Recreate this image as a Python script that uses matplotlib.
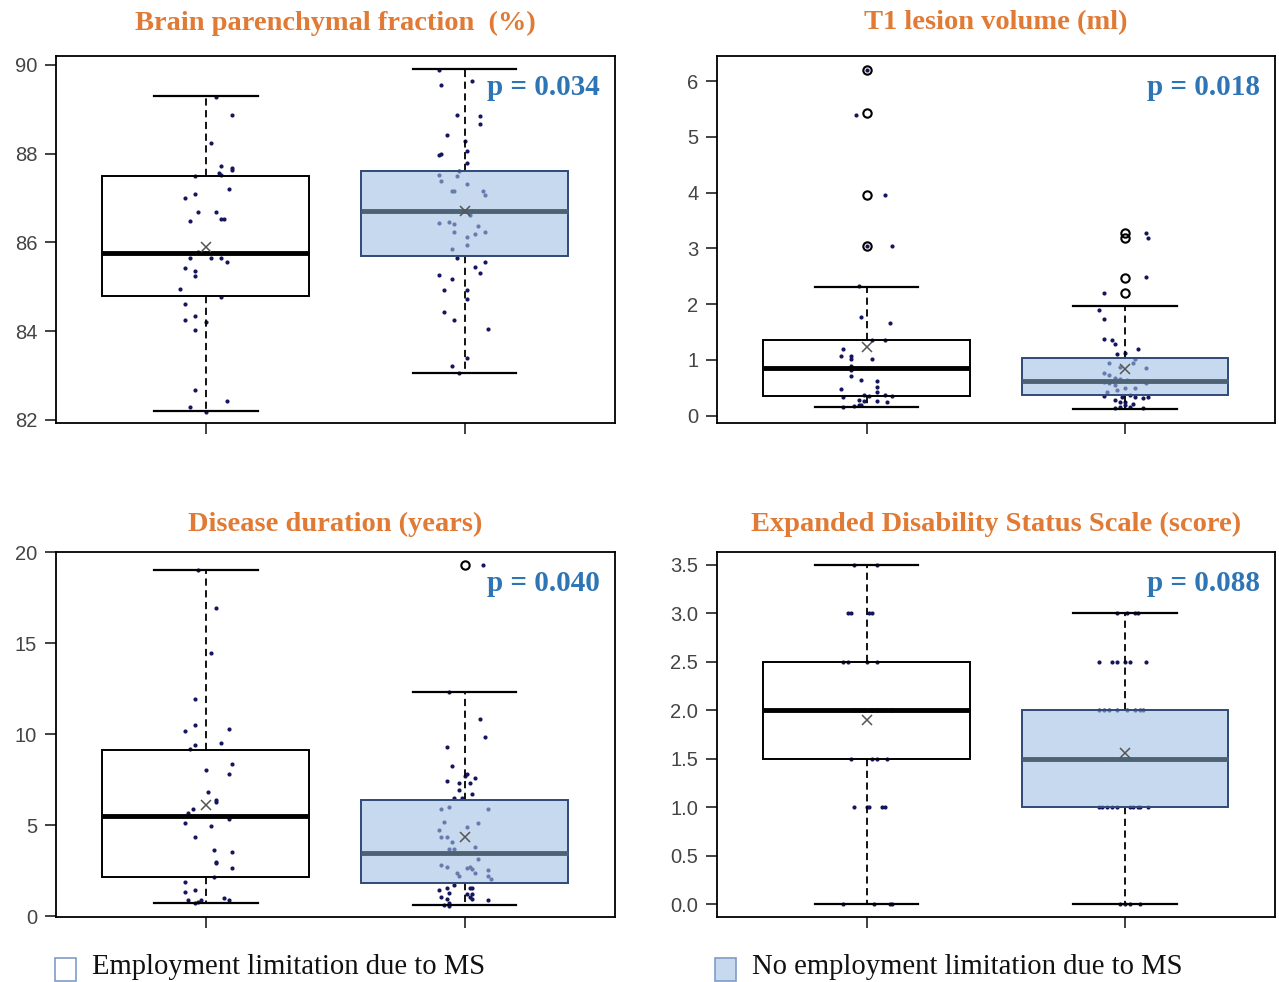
import numpy as np
import matplotlib
matplotlib.use("Agg")
import matplotlib.pyplot as plt
from matplotlib.patches import Rectangle

# box summaries: whislo, q1, median, q3, whishi, mean  (group 1 = limitation, group 2 = no limitation)
bpf_box = [[82.2, 84.8, 85.75, 87.5, 89.3, 85.9], [83.05, 85.7, 86.7, 87.6, 89.9, 86.7]]
t1_box = [[0.15, 0.35, 0.85, 1.35, 2.3, 1.23], [0.12, 0.38, 0.62, 1.03, 1.97, 0.83]]
dd_box = [[0.7, 2.15, 5.5, 9.1, 19.0, 6.1], [0.6, 1.8, 3.45, 6.4, 12.3, 4.35]]
edss_box = [[0.0, 1.5, 2.0, 2.5, 3.5, 1.9], [0.0, 1.0, 1.5, 2.0, 3.0, 1.56]]

bpf_out = [[], []]
t1_out = [[3.04, 3.96, 5.42, 6.2], [2.2, 2.47, 3.19, 3.27]]
dd_out = [[], [19.3]]
edss_out = [[], []]

# individual observations (value, horizontal jitter)
bpf_v1 = [89.28, 88.88, 88.24, 87.73, 87.68, 87.64, 87.56, 87.52, 87.5, 87.2, 87.01, 87.09,
          86.68, 86.68, 86.48, 86.52, 86.52, 85.79, 85.64, 85.64, 85.64, 85.55, 85.43, 85.35,
          85.25, 84.96, 84.77, 84.62, 84.35, 84.24, 84.2, 84.02, 82.67, 82.42, 82.29, 82.17]
bpf_j1 = [0.04, 0.10, 0.02, 0.06, 0.10, 0.10, 0.05, 0.06, -0.04, 0.09, -0.08, -0.04,
          -0.03, 0.04, -0.06, 0.06, 0.07, -0.03, -0.06, 0.02, 0.06, 0.08, -0.08, -0.04,
          -0.04, -0.10, 0.06, -0.08, -0.04, -0.08, 0.0, -0.04, -0.04, 0.08, -0.06, 0.0]
bpf_v2 = [89.89, 89.55, 89.64, 88.88, 88.85, 88.66, 88.43, 88.28, 87.98, 88.0, 88.05, 87.79,
          87.6, 87.52, 87.39, 87.49, 87.31, 87.15, 87.15, 87.16, 87.07, 86.7, 86.7, 86.7,
          86.7, 86.62, 86.43, 86.47, 86.41, 86.38, 86.24, 86.24, 86.18, 86.13, 85.95, 85.85,
          85.64, 85.55, 85.45, 85.26, 85.3, 85.18, 84.92, 84.92, 84.73, 84.43, 84.24, 84.05,
          83.39, 83.21, 83.06]
bpf_j2 = [-0.10, -0.09, 0.03, -0.03, 0.06, 0.06, -0.07, 0.0, -0.10, -0.09, 0.01, 0.01,
          -0.02, -0.10, -0.09, -0.03, 0.01, -0.05, -0.04, 0.07, 0.08, -0.05, -0.02, 0.0,
          0.03, 0.02, -0.10, -0.06, -0.04, 0.05, -0.04, 0.08, 0.04, 0.01, 0.01, -0.05,
          -0.03, 0.08, 0.04, -0.10, 0.06, -0.05, -0.08, 0.01, 0.01, -0.08, -0.04, 0.09,
          0.01, -0.05, -0.02]

t1_v1 = [6.2, 5.4, 3.96, 3.04, 3.04, 2.32, 1.77, 1.66, 1.35, 1.35, 1.2, 1.07, 1.02, 1.08,
         1.02, 0.9, 0.82, 0.71, 0.64, 0.63, 0.51, 0.48, 0.43, 0.33, 0.37, 0.35, 0.37, 0.36,
         0.28, 0.26, 0.26, 0.24, 0.2, 0.19, 0.17, 0.15]
t1_j1 = [0.0, -0.04, 0.07, 0.0, 0.10, -0.03, -0.02, 0.09, 0.02, 0.07, -0.09, -0.10, -0.06, -0.06,
         0.02, -0.06, -0.06, -0.06, -0.02, 0.04, 0.04, -0.10, 0.04, -0.09, -0.01, 0.01, 0.07, 0.10,
         -0.03, -0.01, 0.04, 0.08, -0.02, -0.03, -0.05, -0.09]
t1_v2 = [3.28, 3.18, 2.49, 2.2, 1.89, 1.74, 1.38, 1.35, 1.29, 1.2, 1.11, 1.13, 1.02, 0.94,
         0.94, 0.88, 0.85, 0.77, 0.73, 0.67, 0.65, 0.64, 0.61, 0.58, 0.55, 0.58, 0.49, 0.5,
         0.43, 0.46, 0.35, 0.34, 0.37, 0.34, 0.31, 0.33, 0.28, 0.25, 0.25, 0.21, 0.19, 0.15,
         0.15, 0.13, 0.13]
t1_j2 = [0.08, 0.09, 0.08, -0.08, -0.10, -0.08, -0.08, -0.05, -0.04, 0.05, -0.03, 0.0, 0.04, -0.06,
         0.03, -0.02, 0.08, -0.08, -0.06, -0.04, -0.02, 0.01, -0.08, -0.06, -0.04, 0.08, 0.0, 0.04,
         -0.07, -0.03, -0.08, -0.01, 0.02, 0.04, 0.07, 0.09, -0.04, -0.02, 0.0, 0.03, 0.0, -0.02,
         0.02, 0.07, -0.04]

dd_v1 = [19.03, 16.94, 14.47, 11.95, 10.17, 10.48, 10.25, 9.52, 9.39, 9.2, 8.33, 8.05, 7.79,
         6.79, 6.4, 6.28, 5.86, 5.67, 5.36, 5.09, 4.96, 4.32, 3.62, 3.53, 2.98, 2.89, 2.62,
         2.16, 1.88, 1.34, 1.43, 1.02, 0.91, 0.91, 0.88, 0.7, 0.79]
dd_j1 = [-0.03, 0.04, 0.02, -0.04, -0.08, -0.04, 0.09, 0.06, -0.04, -0.06, 0.10, 0.0, 0.09,
         0.01, 0.04, 0.04, -0.05, -0.07, 0.09, -0.08, 0.02, -0.04, 0.03, 0.10, 0.04, 0.04, 0.10,
         0.03, -0.08, -0.08, -0.04, 0.07, 0.09, -0.07, -0.02, -0.04, -0.03]
dd_v2 = [19.3, 12.31, 10.85, 9.84, 9.3, 8.25, 7.78, 7.68, 7.61, 7.43, 7.32, 7.32, 6.92, 6.7,
         6.46, 6.46, 5.91, 5.97, 5.87, 5.18, 5.09, 4.87, 4.72, 4.32, 4.32, 4.08, 3.71, 3.71,
         3.77, 3.11, 2.8, 2.71, 2.65, 2.72, 2.6, 2.53, 2.34, 2.2, 2.34, 2.2, 2.01, 1.7, 1.57,
         1.57, 1.52, 1.43, 1.28, 1.24, 1.22, 1.06, 1.06, 0.92, 0.95, 0.88, 0.7, 0.6, 0.55]
dd_j2 = [0.07, -0.06, 0.06, 0.08, -0.07, -0.05, 0.01, 0.0, 0.04, -0.07, -0.02, 0.02, -0.02, 0.03,
         -0.04, -0.01, -0.09, -0.06, 0.09, -0.08, 0.05, 0.01, -0.10, -0.09, -0.07, -0.05, -0.06, -0.04,
         0.04, 0.05, -0.09, -0.07, 0.01, 0.02, 0.03, 0.09, -0.03, -0.02, 0.04, 0.09, 0.10, -0.04, -0.07,
         0.02, 0.03, -0.10, -0.06, 0.01, 0.03, -0.09, 0.02, -0.07, 0.03, 0.09, -0.06, -0.08, -0.06]

edss_v1 = [3.5, 3.5, 3.0, 3.0, 3.0, 3.0, 2.5, 2.5, 2.5, 2.5, 2.0, 2.0, 2.0, 2.0, 2.0, 2.0, 2.0,
           1.5, 1.5, 1.5, 1.5, 1.0, 1.0, 1.0, 1.0, 1.0, 0.0, 0.0, 0.0, 0.0]
edss_j1 = [-0.05, 0.04, -0.07, -0.06, 0.01, 0.02, -0.09, -0.07, 0.0, 0.04, -0.05, -0.03, -0.01,
           0.02, 0.04, 0.06, 0.10, -0.06, 0.02, 0.04, 0.08, -0.05, 0.0, 0.01, 0.06, 0.07,
           -0.09, 0.03, 0.09, 0.10]
edss_v2 = [3.0, 3.0, 3.0, 3.0, 2.5, 2.5, 2.5, 2.5, 2.5, 2.5, 2.0, 2.0, 2.0, 2.0, 2.0, 2.0, 2.0,
           2.0, 1.5, 1.5, 1.5, 1.5, 1.0, 1.0, 1.0, 1.0, 1.0, 1.0, 1.0, 1.0, 1.0, 1.0,
           0.0, 0.0, 0.0, 0.0]
edss_j2 = [-0.03, 0.01, 0.04, 0.05, -0.10, -0.05, -0.03, 0.0, 0.02, 0.08, -0.10, -0.08, -0.06,
           -0.03, 0.01, 0.04, 0.06, 0.07, -0.05, -0.02, 0.0, 0.02, -0.10, -0.09, -0.07, -0.05,
           -0.03, 0.02, 0.03, 0.05, 0.06, 0.09, -0.02, 0.0, 0.02, 0.06]

titles = ["Brain parenchymal fraction  (%)", "T1 lesion volume (ml)",
          "Disease duration (years)", "Expanded Disability Status Scale (score)"]
pvals = ["p = 0.034", "p = 0.018", "p = 0.040", "p = 0.088"]
legend_labels = ["Employment limitation due to MS", "No employment limitation due to MS"]

W, H = 1279, 982
fig = plt.figure(figsize=(W / 100, H / 100), dpi=100)

TITLE_C = "#E07A35"
P_C = "#2E75B6"
PT_C = "#16165E"
FILL2 = (0.627, 0.752, 0.889, 0.6)   # shows as light blue over white, lets points show through
EDGE2 = "#2F4A78"
MED2 = "#4D6273"


def px_axes(l, t, r, b):
    return fig.add_axes([l / W, 1 - b / H, (r - l) / W, (b - t) / H])


def panel(ax, box, outs, v1, j1, v2, j2, ylim, yticks, fmt, title, pval, title_off):
    stats = []
    for b, o in zip(box, outs):
        stats.append(dict(whislo=b[0], q1=b[1], med=b[2], q3=b[3], whishi=b[4], mean=b[5], fliers=o))
    ax.scatter(1 + np.array(j1), v1, s=9, color=PT_C, zorder=2, linewidths=0)
    ax.scatter(2 + np.array(j2), v2, s=9, color=PT_C, zorder=2, linewidths=0)
    bp = ax.bxp(stats, positions=[1, 2], widths=0.8, capwidths=0.4, patch_artist=True,
                showmeans=True, manage_ticks=False,
                meanprops=dict(marker="x", markeredgecolor="#555555", markersize=7, markeredgewidth=1.1),
                flierprops=dict(marker="o", markerfacecolor="none", markeredgecolor="black",
                                markersize=6, markeredgewidth=1.5),
                whiskerprops=dict(color="black", lw=1.3, ls=(0, (4, 2.5))),
                capprops=dict(color="black", lw=1.6),
                medianprops=dict(lw=3.5))
    bp["boxes"][0].set(facecolor="none", edgecolor="black", lw=1.4, zorder=3)
    bp["boxes"][1].set(facecolor=FILL2, edgecolor=EDGE2, lw=1.4, zorder=3)
    bp["medians"][0].set(color="black", zorder=4)
    bp["medians"][1].set(color=MED2, zorder=4)
    for m in bp["means"]:
        m.set_zorder(5)
    ax.set_xlim(0.421, 2.581)
    ax.set_ylim(*ylim)
    ax.set_xticks([1, 2])
    ax.set_xticklabels([])
    ax.set_yticks(yticks)
    ax.set_yticklabels([fmt.format(t) for t in yticks], fontsize=14.5, color="#444444",
                       family="Liberation Sans")
    ax.tick_params(axis="both", direction="out", length=8, width=1.3, pad=5.5, color="#333333")
    for s in ax.spines.values():
        s.set_linewidth(1.3)
    ax.text(0.973, 0.915, pval, transform=ax.transAxes, ha="right", va="center",
            fontsize=21, fontweight="bold", color=P_C, family="Liberation Serif")
    pos = ax.get_position()
    fig.text(pos.x0 + pos.width / 2, pos.y1 + title_off / H, title, ha="center", va="center",
             fontsize=20.5, fontweight="bold", color=TITLE_C, family="Liberation Serif")


ax1 = px_axes(56, 56, 615, 423)
ax2 = px_axes(717, 56, 1275, 423)
ax3 = px_axes(56, 552, 615, 917)
ax4 = px_axes(717, 552, 1275, 917)

panel(ax1, bpf_box, bpf_out, bpf_v1, bpf_j1, bpf_v2, bpf_j2, (81.93, 90.2),
      [82, 84, 86, 88, 90], "{:g}", titles[0], pvals[0], 33)
panel(ax2, t1_box, t1_out, t1_v1, t1_j1, t1_v2, t1_j2, (-0.13, 6.45),
      [0, 1, 2, 3, 4, 5, 6], "{:g}", titles[1], pvals[1], 33)
panel(ax3, dd_box, dd_out, dd_v1, dd_j1, dd_v2, dd_j2, (-0.05, 20.0),
      [0, 5, 10, 15, 20], "{:g}", titles[2], pvals[2], 28)
panel(ax4, edss_box, edss_out, edss_v1, edss_j1, edss_v2, edss_j2, (-0.13, 3.63),
      [0, 0.5, 1.0, 1.5, 2.0, 2.5, 3.0, 3.5], "{:.1f}", titles[3], pvals[3], 28)

# legend squares and labels
for x0, face, lab in [(55, "white", legend_labels[0]), (715, "#C6D9EE", legend_labels[1])]:
    fig.patches.append(Rectangle((x0 / W, 1 - 981 / H), 21 / W, 23 / H, transform=fig.transFigure,
                                 facecolor=face, edgecolor="#7F9CC4", lw=1.2))
    fig.text((x0 + 37) / W, 1 - 967 / H, lab, ha="left", va="center", fontsize=20.6,
             family="Liberation Serif", color="#111111")

fig.savefig("out.png", dpi=100)
